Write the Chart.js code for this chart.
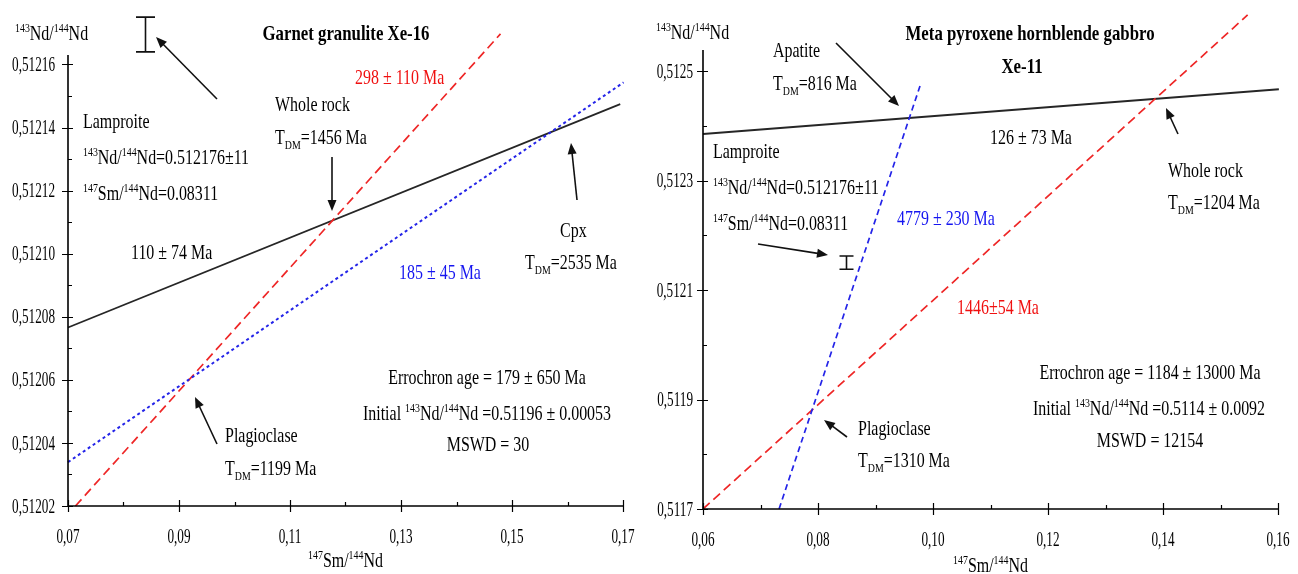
<!DOCTYPE html>
<html>
<head>
<meta charset="utf-8">
<script src="https://cdn.jsdelivr.net/npm/chart.js@4.4.0/dist/chart.umd.min.js"></script>
<style>
html, body { margin: 0; padding: 0; background: #fff; }
#wrap { position: relative; width: 1298px; height: 574px; overflow: hidden; }
.panel { position: absolute; top: 0; width: 649px; height: 574px; }
</style>
</head>
<body>
<div id="wrap">
  <div class="panel" style="left:0"><canvas id="xe16" width="649" height="574"></canvas></div>
  <div class="panel" style="left:649px"><canvas id="xe11" width="649" height="574"></canvas></div>
</div>
<script>
// ---- Xe-16 (garnet granulite) ----
const xe16XRange = [0.07, 0.17];
const xe16YRange = [0.51202, 0.512163];
const xe16XTicks = [0.07, 0.09, 0.11, 0.13, 0.15, 0.17];
const xe16XLabels = ['0,07', '0,09', '0,11', '0,13', '0,15', '0,17'];
const xe16XMinor = [0.08, 0.10, 0.12, 0.14, 0.16];
const xe16YTicks = [0.51202, 0.51204, 0.51206, 0.51208, 0.51210, 0.51212, 0.51214, 0.51216];
const xe16YLabels = ['0,51202', '0,51204', '0,51206', '0,51208', '0,51210', '0,51212', '0,51214', '0,51216'];
const xe16YMinor = [0.51203, 0.51205, 0.51207, 0.51209, 0.51211, 0.51213, 0.51215];

const xe16BlackX = [0.07, 0.1695];
const xe16BlackY = [0.5120766, 0.5121474];
const xe16RedX = [0.07134, 0.14793];
const xe16RedY = [0.51202, 0.5121697];
const xe16BlueX = [0.07, 0.1701];
const xe16BlueY = [0.5120339, 0.5121543];
const xe16ErrX = [0.0839];
const xe16ErrLo = [0.512164];
const xe16ErrHi = [0.512175];

// ---- Xe-11 (meta pyroxene hornblende gabbro) ----
const xe11XRange = [0.06, 0.16];
const xe11YRange = [0.5117, 0.5125384];
const xe11XTicks = [0.06, 0.08, 0.10, 0.12, 0.14, 0.16];
const xe11XLabels = ['0,06', '0,08', '0,10', '0,12', '0,14', '0,16'];
const xe11XMinor = [0.07, 0.09, 0.11, 0.13, 0.15];
const xe11YTicks = [0.5117, 0.5119, 0.5121, 0.5123, 0.5125];
const xe11YLabels = ['0,5117', '0,5119', '0,5121', '0,5123', '0,5125'];
const xe11YMinor = [0.5118, 0.5120, 0.5122, 0.5124];

const xe11BlackX = [0.06, 0.16015];
const xe11BlackY = [0.5123848, 0.5124665];
const xe11RedX = [0.06, 0.15472];
const xe11RedY = [0.5117, 0.5126024];
const xe11BlueX = [0.07323, 0.09774];
const xe11BlueY = [0.5117, 0.5124726];
const xe11ErrX = [0.0849];
const xe11ErrLo = [0.512138];
const xe11ErrHi = [0.512162];

const FONT = '"Liberation Serif", "Times New Roman", serif';

function drawRich(ctx, str, x, y, o) {
    const segs = [];
    const re = /([\^_])\{([^}]*)\}|([^\^_]+)/g;
    let m;
    while ((m = re.exec(str))) {
        if (m[3]) segs.push({ t: m[3], k: 0 });
        else segs.push({ t: m[2], k: m[1] === '^' ? 1 : -1 });
    }
    const size = o.size || 21;
    const sx = o.sx || 0.76;
    const font = k => (o.bold ? 'bold ' : '') + (k ? size * 0.62 : size) + 'px ' + FONT;
    let w = 0;
    segs.forEach(s => { ctx.font = font(s.k); s.w = ctx.measureText(s.t).width; w += s.w; });
    let start = x;
    if (o.align === 'center') start = x - w * sx / 2;
    if (o.align === 'right') start = x - w * sx;
    ctx.save();
    ctx.translate(start, y + size * 0.33);
    ctx.scale(sx, 1);
    ctx.fillStyle = o.color || '#000';
    ctx.textBaseline = 'alphabetic';
    let cx = 0;
    segs.forEach(s => {
        ctx.font = font(s.k);
        const dy = s.k === 1 ? -size * 0.4 : (s.k === -1 ? size * 0.22 : 0);
        ctx.fillText(s.t, cx, dy);
        cx += s.w;
    });
    ctx.restore();
}

function drawArrow(ctx, x1, y1, x2, y2) {
    const a = Math.atan2(y2 - y1, x2 - x1);
    const len = 11, hw = 4.5;
    ctx.save();
    ctx.strokeStyle = '#111';
    ctx.fillStyle = '#111';
    ctx.lineWidth = 1.6;
    ctx.beginPath();
    ctx.moveTo(x1, y1);
    ctx.lineTo(x2 - Math.cos(a) * len * 0.8, y2 - Math.sin(a) * len * 0.8);
    ctx.stroke();
    ctx.beginPath();
    ctx.moveTo(x2, y2);
    ctx.lineTo(x2 - Math.cos(a) * len - Math.sin(a) * hw, y2 - Math.sin(a) * len + Math.cos(a) * hw);
    ctx.lineTo(x2 - Math.cos(a) * len + Math.sin(a) * hw, y2 - Math.sin(a) * len - Math.cos(a) * hw);
    ctx.closePath();
    ctx.fill();
    ctx.restore();
}

function decor(cfg) {
    return {
        id: 'decor',
        afterDatasetsDraw(chart) {
            const ctx = chart.ctx;
            const xs = chart.scales.x, ys = chart.scales.y;
            const area = chart.chartArea;
            ctx.save();
            ctx.strokeStyle = '#000';
            ctx.lineWidth = 1.6;
            // axes
            ctx.beginPath();
            ctx.moveTo(area.left, area.top);
            ctx.lineTo(area.left, area.bottom);
            ctx.lineTo(area.right, area.bottom);
            ctx.stroke();
            ctx.lineWidth = 1.2;
            ctx.beginPath();
            cfg.yTicks.forEach(v => {
                const p = Math.round(ys.getPixelForValue(v)) + 0.5;
                ctx.moveTo(area.left - 6, p); ctx.lineTo(area.left + 5, p);
            });
            cfg.yMinor.forEach(v => {
                const p = Math.round(ys.getPixelForValue(v)) + 0.5;
                ctx.moveTo(area.left, p); ctx.lineTo(area.left + 4, p);
            });
            cfg.xTicks.forEach(v => {
                const p = Math.round(xs.getPixelForValue(v)) + 0.5;
                ctx.moveTo(p, area.bottom - 6); ctx.lineTo(p, area.bottom + 6);
            });
            cfg.xMinor.forEach(v => {
                const p = Math.round(xs.getPixelForValue(v)) + 0.5;
                ctx.moveTo(p, area.bottom - 4); ctx.lineTo(p, area.bottom);
            });
            ctx.stroke();

            // tick labels
            cfg.yTicks.forEach((v, i) => {
                drawRich(ctx, cfg.yLabels[i], area.left - cfg.yLabelGap, ys.getPixelForValue(v), { size: 20, sx: 0.66, align: 'right' });
            });
            cfg.xTicks.forEach((v, i) => {
                drawRich(ctx, cfg.xLabels[i], xs.getPixelForValue(v), area.bottom + 30, { size: 20, sx: 0.66, align: 'center' });
            });
            drawRich(ctx, '^{147}Sm/^{144}Nd', (area.left + area.right) / 2, cfg.xTitleY, { align: 'center' });

            // error bars
            ctx.lineWidth = 1.6;
            ctx.strokeStyle = '#111';
            cfg.errX.forEach((v, i) => {
                const px = Math.round(xs.getPixelForValue(v)) + 0.5;
                const lo = ys.getPixelForValue(cfg.errLo[i]);
                const hi = ys.getPixelForValue(cfg.errHi[i]);
                const c = cfg.capW / 2;
                ctx.beginPath();
                ctx.moveTo(px, lo); ctx.lineTo(px, hi);
                ctx.moveTo(px - c, lo); ctx.lineTo(px + c, lo);
                ctx.moveTo(px - c, hi); ctx.lineTo(px + c, hi);
                ctx.stroke();
            });

            cfg.notes.forEach(n => drawRich(ctx, n.t, n.x, n.y, n));
            cfg.arrows.forEach(a => drawArrow(ctx, a[0], a[1], a[2], a[3]));
            ctx.restore();
        }
    };
}

function lineSet(xv, yv, color, width, dash) {
    return {
        data: xv.map((v, i) => ({ x: v, y: yv[i] })),
        borderColor: color,
        borderWidth: width,
        borderDash: dash,
        pointRadius: 0,
        fill: false,
        tension: 0,
        clip: false
    };
}

function makeChart(id, cfg) {
    return new Chart(document.getElementById(id), {
        type: 'line',
        data: { datasets: cfg.lines },
        options: {
            responsive: false,
            animation: false,
            events: [],
            layout: { padding: cfg.pad },
            plugins: { legend: { display: false }, tooltip: { enabled: false } },
            scales: {
                x: { type: 'linear', min: cfg.xRange[0], max: cfg.xRange[1], display: false },
                y: { type: 'linear', min: cfg.yRange[0], max: cfg.yRange[1], display: false }
            }
        },
        plugins: [decor(cfg)]
    });
}

const RED = 'rgb(238,38,38)';
const BLUE = 'rgb(36,36,232)';
const BLACK = '#262626';

makeChart('xe16', {
    pad: { left: 68, right: 26, top: 55, bottom: 68 },
    xRange: xe16XRange, yRange: xe16YRange,
    xTicks: xe16XTicks, xLabels: xe16XLabels, xMinor: xe16XMinor,
    yTicks: xe16YTicks, yLabels: xe16YLabels, yMinor: xe16YMinor,
    yLabelGap: 13, xTitleY: 560, capW: 19,
    errX: xe16ErrX, errLo: xe16ErrLo, errHi: xe16ErrHi,
    lines: [
        lineSet(xe16BlueX, xe16BlueY, BLUE, 2, [3, 3]),
        lineSet(xe16RedX, xe16RedY, RED, 1.7, [9, 5]),
        lineSet(xe16BlackX, xe16BlackY, BLACK, 1.8, [])
    ],
    notes: [
        { t: 'Garnet granulite Xe-16', x: 346, y: 33, bold: true, sx: 0.8, align: 'center' },
        { t: '^{143}Nd/^{144}Nd', x: 15, y: 33 },
        { t: '298 ± 110 Ma', x: 355, y: 77, color: '#f01010' },
        { t: 'Whole rock', x: 275, y: 104 },
        { t: 'T_{DM}=1456 Ma', x: 275, y: 137 },
        { t: 'Lamproite', x: 83, y: 121 },
        { t: '^{143}Nd/^{144}Nd=0.512176±11', x: 83, y: 157 },
        { t: '^{147}Sm/^{144}Nd=0.08311', x: 83, y: 193 },
        { t: '110 ± 74 Ma', x: 131, y: 252 },
        { t: '185 ± 45 Ma', x: 399, y: 272, color: '#1515f0' },
        { t: 'Cpx', x: 560, y: 230 },
        { t: 'T_{DM}=2535 Ma', x: 525, y: 262 },
        { t: 'Errochron age = 179 ± 650 Ma', x: 487, y: 377, align: 'center' },
        { t: 'Initial ^{143}Nd/^{144}Nd =0.51196 ± 0.00053', x: 487, y: 413, align: 'center' },
        { t: 'MSWD = 30', x: 488, y: 444, align: 'center' },
        { t: 'Plagioclase', x: 225, y: 435 },
        { t: 'T_{DM}=1199 Ma', x: 225, y: 468 }
    ],
    arrows: [
        [217, 99, 156, 37],
        [332, 157, 332, 211],
        [577, 200, 571, 143],
        [217, 444, 195, 397]
    ]
});

makeChart('xe11', {
    pad: { left: 54, right: 20, top: 50, bottom: 65 },
    xRange: xe11XRange, yRange: xe11YRange,
    xTicks: xe11XTicks, xLabels: xe11XLabels, xMinor: xe11XMinor,
    yTicks: xe11YTicks, yLabels: xe11YLabels, yMinor: xe11YMinor,
    yLabelGap: 10, xTitleY: 565, capW: 14,
    errX: xe11ErrX, errLo: xe11ErrLo, errHi: xe11ErrHi,
    lines: [
        lineSet(xe11BlueX, xe11BlueY, BLUE, 1.7, [6, 4]),
        lineSet(xe11RedX, xe11RedY, RED, 1.7, [9, 5]),
        lineSet(xe11BlackX, xe11BlackY, BLACK, 2, [])
    ],
    notes: [
        { t: 'Meta pyroxene hornblende gabbro', x: 381, y: 33, bold: true, sx: 0.8, align: 'center' },
        { t: 'Xe-11', x: 373, y: 66, bold: true, sx: 0.8, align: 'center' },
        { t: '^{143}Nd/^{144}Nd', x: 7, y: 32 },
        { t: 'Apatite', x: 124, y: 50 },
        { t: 'T_{DM}=816 Ma', x: 124, y: 83 },
        { t: '126 ± 73 Ma', x: 341, y: 137 },
        { t: 'Whole rock', x: 519, y: 170 },
        { t: 'T_{DM}=1204 Ma', x: 519, y: 202 },
        { t: 'Lamproite', x: 64, y: 151 },
        { t: '^{143}Nd/^{144}Nd=0.512176±11', x: 64, y: 187 },
        { t: '^{147}Sm/^{144}Nd=0.08311', x: 64, y: 223 },
        { t: '4779 ± 230 Ma', x: 248, y: 218, color: '#1515f0' },
        { t: '1446±54 Ma', x: 308, y: 307, color: '#f01010' },
        { t: 'Errochron age = 1184 ± 13000 Ma', x: 501, y: 372, align: 'center' },
        { t: 'Initial ^{143}Nd/^{144}Nd =0.5114 ± 0.0092', x: 500, y: 408, align: 'center' },
        { t: 'MSWD = 12154', x: 501, y: 440, align: 'center' },
        { t: 'Plagioclase', x: 209, y: 428 },
        { t: 'T_{DM}=1310 Ma', x: 209, y: 460 }
    ],
    arrows: [
        [187, 43, 250, 106],
        [529, 134, 517, 108],
        [109, 244, 179, 255],
        [198, 437, 175, 420]
    ]
});
</script>
</body>
</html>
